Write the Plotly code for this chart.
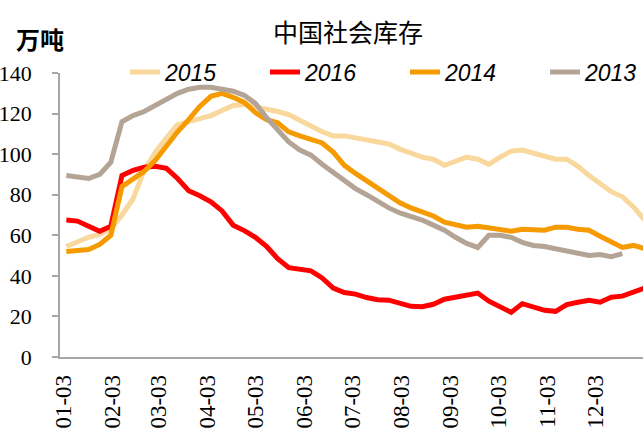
import plotly.graph_objects as go
import pandas as pd

# weekly observation dates (plotted on a common 2016 calendar)
week_start = "2016-01-05"
n_weeks = 53

s2015 = [54.5, 57, 59, 60.5, 63, 70, 78, 92, 101, 108, 114.5, 116, 117.5, 119, 121.5, 124, 124.5,
         123.5, 122.5, 121, 119.5, 116.5, 114, 111, 109, 109, 108, 107, 106, 105, 102.5, 100.5,
         98.5, 97.5, 94.5, 96.5, 98.5, 97.5, 95, 98.5, 101.5, 102, 100.5, 98.5, 97.5, 97.5, 94,
         89.5, 85.5, 81.5, 79, 74, 67.5]
s2016 = [67.5, 67, 64.5, 62, 64.5, 89.5, 92, 93.5, 94, 93, 88, 82, 79.5, 76.5, 72, 65, 62.3,
         59, 54.5, 48.5, 44, 43.3, 42.5, 39, 34, 31.8, 31, 29.3, 28.2, 28, 26.5, 25, 24.8, 26,
         28.5, 29.5, 30.8, 31.5, 27.5, 24.5, 22, 26.3, 24.7, 23, 22.5, 25.8, 27, 28, 27, 29.5,
         30, 32, 34]
s2014 = [52, 52.5, 53, 55.5, 60, 84, 88, 91.5, 97, 104, 111, 117, 123.5, 128.5, 130, 128, 125.5,
         120.5, 117, 115.5, 111, 109, 107.5, 105.5, 101, 94.5, 90.5, 87, 83.5, 79.5, 76, 73.5,
         71.5, 69.5, 66.5, 65, 64, 64.5, 63.5, 62.5, 62, 63, 62.5, 62.5, 64, 64, 63, 62.5, 59.5,
         56.5, 54, 55, 53.5]
s2013 = [89.5, 89, 88, 90, 96, 116, 119, 121, 124, 127.5, 130, 132, 133, 133, 132, 131, 129,
         125, 118, 112, 106, 102, 99.5, 95, 91, 87, 83, 80, 76.5, 73.5, 71, 69.5, 67.5, 65,
         62.5, 59, 56, 54, 60, 60, 59, 56.5, 55, 54.5, 53.5, 52.5, 51.5, 50, 50.5, 49.5, 51]

series_names = ["2015", "2016", "2014", "2013"]
series_colors = ["#F8D89C", "#FF0000", "#F59B00", "#B4A495"]

tick_labels = ["01-03", "02-03", "03-03", "04-03", "05-03", "06-03",
               "07-03", "08-03", "09-03", "10-03", "11-03", "12-03"]
tick_dates = ["2016-" + t for t in tick_labels]

y_ticks = [0, 20, 40, 60, 80, 100, 120, 140]

dates = pd.date_range(week_start, periods=n_weeks, freq="7D")

fig = go.Figure()
for name, vals, color in zip(series_names, [s2015, s2016, s2014, s2013], series_colors):
    fig.add_trace(go.Scatter(
        x=dates[:len(vals)], y=vals, mode="lines", name=name,
        line=dict(color=color, width=5),
    ))

W, H = 643, 441
ml, mr, mt, mb = 60, 0, 73, 84
PW, PH = W - ml - mr, H - mt - mb

fig.update_layout(
    width=W, height=H,
    margin=dict(l=ml, r=mr, t=mt, b=mb, autoexpand=False),
    paper_bgcolor="white", plot_bgcolor="white",
    title=dict(text="中国社会库存", x=348 / W, xref="container", xanchor="center",
               y=1 - 33 / H, yref="container", yanchor="middle",
               font=dict(family="Noto Sans CJK SC", size=25, color="black")),
    xaxis=dict(
        type="date", range=["2016-01-01", "2017-01-02"],
        tickvals=tick_dates, ticktext=tick_labels, tickangle=-90,
        showline=True, linecolor="#A6A6A6", linewidth=1.5,
        ticks="", showgrid=False, zeroline=False, automargin=False,
        tickfont=dict(family="Liberation Serif", size=23, color="black"),
        ticklabelstandoff=7,
    ),
    yaxis=dict(
        range=[0, 140], tickvals=y_ticks,
        showline=True, linecolor="#A6A6A6", linewidth=1.5,
        ticks="outside", ticklen=6, tickcolor="#A6A6A6", tickwidth=1.5,
        showgrid=False, zeroline=False, automargin=False,
        tickfont=dict(family="Liberation Serif", size=22, color="black"),
        ticklabelstandoff=16,
    ),
    legend=dict(
        orientation="h", xref="container", yref="container",
        x=125 / W, xanchor="left",
        y=1 - 72 / H, yanchor="middle", bgcolor="rgba(0,0,0,0)",
        entrywidth=95, entrywidthmode="pixels",
        font=dict(family="Liberation Sans", size=23, color="black", style="italic"),
    ),
    showlegend=True,
)

fig.add_annotation(
    text="<b>万吨</b>", xref="paper", yref="paper",
    x=(40 - ml) / PW, y=(H - mb - 38) / PH,
    xanchor="center", yanchor="middle", showarrow=False,
    font=dict(family="Noto Sans CJK SC", size=24, color="black"),
)

fig.write_html("out.html", config={"displayModeBar": False},
               post_script="document.body.style.margin='0';document.body.style.overflow='hidden';")
